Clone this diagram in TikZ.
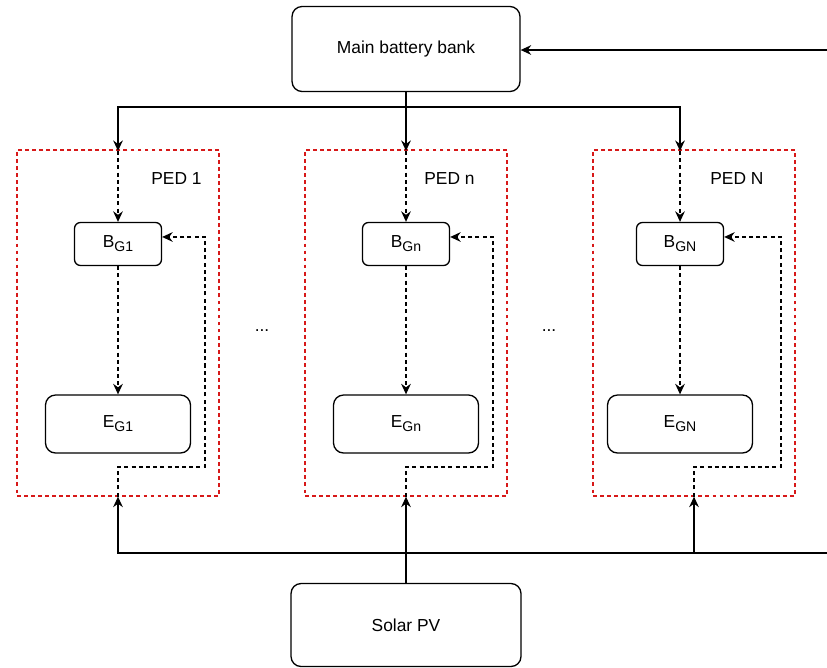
\documentclass[tikz,border=0pt]{standalone}
\usepackage{fontspec}
\setmainfont{Liberation Sans}
\usetikzlibrary{arrows.meta}
\definecolor{pedred}{RGB}{215,25,25}
\newcommand\gsub[1]{\raisebox{-.45ex}{\fontsize{8}{9}\selectfont #1}}
\tikzset{
  box/.style={draw, line width=.75pt, rounded corners=.2cm, inner sep=0pt, font=\fontsize{9.9}{12}\selectfont},
  bbox/.style={box, rounded corners=.12cm, minimum width=1.74cm, minimum height=.86cm},
  ebox/.style={box, minimum width=2.9cm, minimum height=1.16cm},
  ped/.style={draw=pedred, line width=.75pt, dash pattern=on 2.2pt off 1.8pt, inner sep=0pt, minimum width=4.04cm, minimum height=6.92cm},
  wire/.style={line width=.75pt},
  fb/.style={wire, dash pattern=on 2.3pt off 1.8pt}
}
\begin{document}
\begin{tikzpicture}[>={Stealth[length=6pt, width=5.5pt, inset=2pt]}, x=.02cm, y=-.02cm, font=\fontsize{9.9}{12}\selectfont]
\useasboundingbox (0,0) rectangle (827,667);
\node[box, minimum width=4.56cm, minimum height=1.7cm] (bank) at (406,49) {Main battery bank};
\node[box, minimum width=4.6cm, minimum height=1.66cm] (pv) at (406,625) {Solar PV};
\coordinate (in) at (827,50);
\coordinate (out) at (827,553);
\coordinate (tbus) at (406,107);
\coordinate (bbus) at (406,553);
\draw[wire, ->] (in) -- (bank.east |- in);
% one PED per column
\foreach \k/\bx/\px/\lx in {1/118/118/151, n/406/406/424, N/680/694/710}{
  \node[ped] (ped\k) at (\px,323) {};
  \node[anchor=west, inner sep=0pt] (lab\k) at (\lx,179) {PED \k};
  \node[bbox] (b\k) at (\bx,244) {B\gsub{G\k}};
  \node[ebox] (e\k) at (\bx,424) {E\gsub{G\k}};
  \coordinate (top\k) at (\bx,151);
  \coordinate (fb\k) at (\px+87,467);
  \draw[fb, ->] (top\k) -- (b\k);
  \draw[fb, ->] (b\k) -- (e\k);
  \draw[fb, ->] (ped\k.south) |- (fb\k) |- ([yshift=4pt]b\k.east);
}
\draw[wire, ->] (bank) -- (topn);
\draw[wire, ->] (tbus) -| (top1);
\draw[wire, ->] (tbus) -| (topN);
\draw[wire, ->] (pv) -- (pedn);
\draw[wire, ->] (bbus) -| (ped1.south);
\draw[wire, ->] (bbus) -| (pedN.south);
\draw[wire] (bbus) -- (out);
\node (dots1) at (262,331) {...};
\node (dots2) at (549,331) {...};
\end{tikzpicture}
\end{document}
